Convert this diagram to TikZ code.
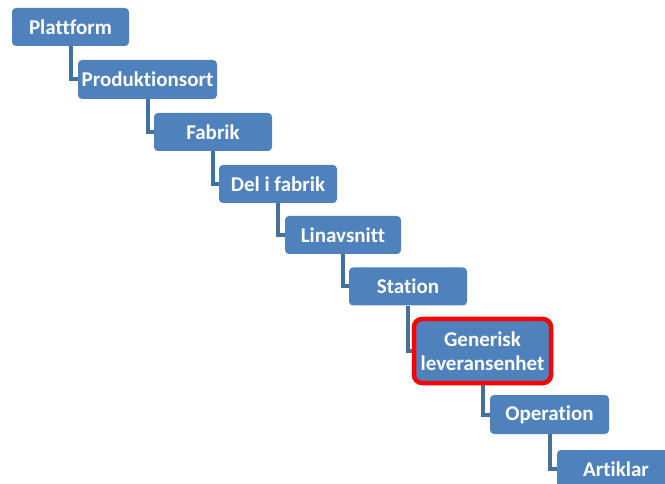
\documentclass[tikz,border=0pt]{standalone}
\usepackage{fontspec}
\setmainfont{Carlito}[Ligatures=NoCommon]
\usetikzlibrary{backgrounds}
\definecolor{boxblue}{HTML}{4F81BD}
\definecolor{connblue}{HTML}{41719C}
\definecolor{hired}{HTML}{FF0000}
\begin{document}
\begin{tikzpicture}[x=1pt,y=-1pt,
  box/.style={fill=boxblue, rounded corners=4pt, minimum height=38pt, text=white,
    font=\fontsize{21}{24}\selectfont\bfseries, inner sep=0pt, align=center},
  conn/.style={draw=connblue, line width=4pt}]
\useasboundingbox (0,0) rectangle (665,484);
\node[box, minimum width=117pt] (p1) at (70.5,27) {Plattform};
\node[box, minimum width=139pt, minimum height=39pt] (p2) at (147.5,79.5) {Produktionsort};
\node[box, minimum width=118pt] (p3) at (213,132) {Fabrik};
\node[box, minimum width=118pt] (p4) at (278,184) {Del i fabrik};
\node[box, minimum width=116pt] (p5) at (343,235) {Linavsnitt};
\node[box, minimum width=118pt] (p6) at (408,286.5) {Station};
\node[box, minimum width=137pt, minimum height=64pt, draw=hired, line width=4.5pt, rounded corners=8pt] (p7) at (482.5,351) {Generisk\\leveransenhet};
\node[box, minimum width=119pt, minimum height=39pt] (p8) at (549.5,414.5) {Operation};
\node[box, minimum width=118pt] (p9) at (616,469) {Artiklar};
\begin{scope}[on background layer]
\draw[conn] (p1.south) |- (p2.west);
\draw[conn] (p2.south) |- (p3.west);
\draw[conn] (p3.south) |- (p4.west);
\draw[conn] (p4.south) |- (p5.west);
\draw[conn] (p5.south) |- (p6.west);
\draw[conn] (p6.south) |- (p7.west);
\draw[conn] (p7.south) |- (p8.west);
\draw[conn] (p8.south) |- (p9.west);
\end{scope}
\end{tikzpicture}
\end{document}
